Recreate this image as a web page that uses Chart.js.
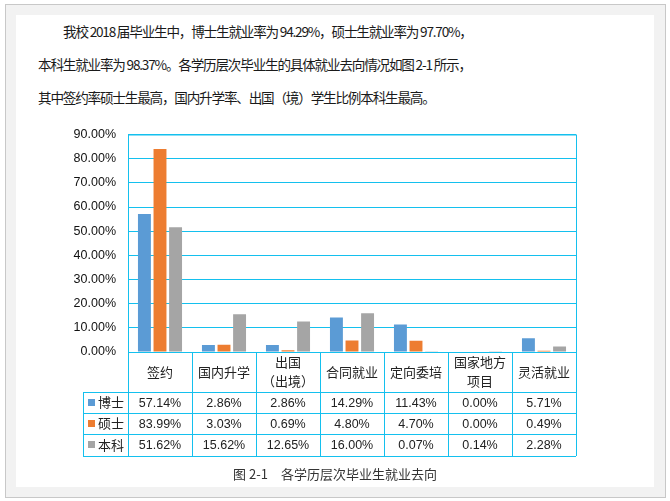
<!DOCTYPE html>
<html>
<head>
<meta charset="utf-8">
<script src="https://cdn.jsdelivr.net/npm/chart.js@4.4.0/dist/chart.umd.min.js"></script>
<style>
html,body{margin:0;padding:0;background:#fff;width:670px;height:501px;overflow:hidden;}
#frame{position:absolute;left:5px;top:4px;width:661px;height:494px;box-sizing:border-box;border:1px solid #c8c8c8;background:#f2f2f2;}
#page{position:absolute;left:16px;top:15px;width:638px;height:472px;background:#fff;}
#para{position:absolute;left:22px;top:0px;font-family:"Noto Sans CJK SC",sans-serif;font-size:13.6px;letter-spacing:-1.2px;line-height:33px;color:#1a1a1a;white-space:nowrap;}
#para .l1{padding-left:25px;}
#caption{position:absolute;left:0;width:638px;top:449px;text-align:center;font-family:"Noto Sans CJK SC",sans-serif;font-size:13px;color:#333;}
#wrap{position:absolute;left:0;top:100px;width:638px;height:350px;}
</style>
</head>
<body>
<div id="frame"></div>
<div id="page">
<div id="para">
<div class="l1">我校 2018 届毕业生中，博士生就业率为 94.29%，硕士生就业率为 97.70%，</div>
<div>本科生就业率为 98.37%。各学历层次毕业生的具体就业去向情况如图 2-1 所示，</div>
<div>其中签约率硕士生最高，国内升学率、出国（境）学生比例本科生最高。</div>
</div>
<div id="wrap"><canvas id="c" width="638" height="350"></canvas></div>
<div id="caption">图 2-1　各学历层次毕业生就业去向</div>
</div>
<script>
const categories=["签约","国内升学",["出国","（出境）"],"合同就业","定向委培",["国家地方","项目"],"灵活就业"];
const seriesNames=["博士","硕士","本科"];
const boshi=[57.14,2.86,2.86,14.29,11.43,0.00,5.71];
const shuoshi=[83.99,3.03,0.69,4.80,4.70,0.00,0.49];
const benke=[51.62,15.62,12.65,16.00,0.07,0.14,2.28];
const colors=["#5b9bd5","#ed7d31","#a5a5a5"];
const gridColor="#14c0ee";

const tablePlugin={
id:"dataTable",
afterDraw(chart){
const ctx=chart.ctx;
const a=chart.chartArea;
const xs=chart.scales.x;
const step=(a.right-a.left)/categories.length;
const headH=40;
const rowH=[21,21,22];
const legendLeft=a.left-45;
const rowsTop=a.bottom+headH;
const bottom=rowsTop+rowH[0]+rowH[1]+rowH[2];
const all=[boshi,shuoshi,benke];
ctx.save();
ctx.strokeStyle=gridColor;
ctx.lineWidth=1;
// table grid
ctx.beginPath();
for(let i=0;i<=categories.length;i++){
const x=Math.round(a.left+i*step)+0.5;
ctx.moveTo(x,i===0||i===categories.length?a.top:a.bottom);
ctx.lineTo(x,bottom);
}
ctx.moveTo(legendLeft+0.5,rowsTop);
ctx.lineTo(legendLeft+0.5,bottom);
let y=rowsTop;
ctx.moveTo(legendLeft,Math.round(y)+0.5);ctx.lineTo(a.right,Math.round(y)+0.5);
for(let r=0;r<3;r++){
y+=rowH[r];
ctx.moveTo(legendLeft,Math.round(y)+0.5);ctx.lineTo(a.right,Math.round(y)+0.5);
}
ctx.moveTo(a.left,a.top+0.5);ctx.lineTo(a.right,a.top+0.5);
ctx.stroke();
// category labels
ctx.fillStyle="#222";
ctx.textAlign="center";
ctx.textBaseline="middle";
ctx.font="13px 'Noto Sans CJK SC'";
categories.forEach((c,i)=>{
const cx=xs.getPixelForValue(i);
const lines=Array.isArray(c)?c:[c];
const lh=19;
const y0=a.bottom+headH/2-(lines.length-1)*lh/2;
lines.forEach((t,k)=>ctx.fillText(t,cx,y0+k*lh));
});
// series rows
let ry=rowsTop;
for(let r=0;r<3;r++){
const cy=ry+rowH[r]/2;
ctx.fillStyle=colors[r];
ctx.fillRect(legendLeft+5,Math.round(cy-4),7,7);
ctx.fillStyle="#222";
ctx.textAlign="left";
ctx.font="13px 'Noto Sans CJK SC'";
ctx.fillText(seriesNames[r],legendLeft+15,cy);
ctx.textAlign="center";
ctx.font="12.5px 'Liberation Sans'";
all[r].forEach((v,i)=>{
ctx.fillText(v.toFixed(2)+"%",xs.getPixelForValue(i),cy+1);
});
ry+=rowH[r];
}
ctx.restore();
}
};

new Chart(document.getElementById("c"),{
type:"bar",
data:{
labels:categories,
datasets:[
{label:seriesNames[0],data:boshi,backgroundColor:colors[0]},
{label:seriesNames[1],data:shuoshi,backgroundColor:colors[1]},
{label:seriesNames[2],data:benke,backgroundColor:colors[2]}
]
},
options:{
responsive:false,
animation:false,
devicePixelRatio:1,
categoryPercentage:0.73,
barPercentage:0.83,
layout:{padding:{top:13,right:78,bottom:113,left:0}},
plugins:{legend:{display:false},tooltip:{enabled:false}},
scales:{
x:{display:false,offset:true},
y:{
min:0,max:90,
afterFit(s){s.width=112;},
border:{display:true,color:gridColor,width:1},
grid:{color:gridColor,lineWidth:1,drawTicks:false},
ticks:{stepSize:10,padding:12,color:"#111",font:{family:"Liberation Sans",size:12.5},callback:v=>v.toFixed(2)+"%"}
}
}
},
plugins:[tablePlugin]
});
</script>
</body>
</html>
